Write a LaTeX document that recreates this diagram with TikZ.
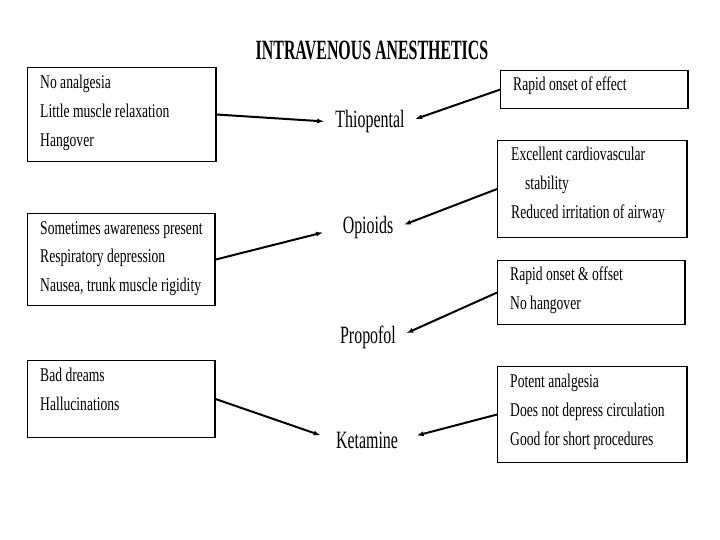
\documentclass[tikz,border=0pt]{standalone}
\usepackage{fontspec}
\newfontfamily\listfont{Liberation Serif}[FakeStretch=0.7]
\newfontfamily\drugfont{Liberation Serif}[FakeStretch=0.64]
\newfontfamily\headfont{Liberation Serif}[FakeStretch=0.57]
\usetikzlibrary{arrows.meta,positioning}

\tikzset{
  infobox/.style={draw, line width=1.4bp, inner sep=0pt, anchor=north west},
  listtext/.style={inner sep=0pt, anchor=north west, align=left, font=\listfont\fontsize{19.5}{29}\selectfont},
  drug/.style={inner sep=2bp, anchor=base, font=\drugfont\fontsize{25}{28}\selectfont},
  link/.style={line width=2bp, -{Latex[length=7bp,width=5bp]}, shorten >=9bp}
}

\begin{document}
\begin{tikzpicture}[x=1bp, y=-1bp]
  \useasboundingbox (0,0) rectangle (720,540);

  % Title
  \node[inner sep=0pt, anchor=base, font=\headfont\bfseries\fontsize{28}{30}\selectfont] (title) at (372,60) {INTRAVENOUS ANESTHETICS};

  % Drug names
  \node[drug] (thio) at (370,128) {Thiopental};
  \node[drug] (opio) at (368,234) {Opioids};
  \node[drug] (prop) at (368,343) {Propofol};
  \node[drug] (keta) at (367,448) {Ketamine};

  % Left boxes: drawbacks
  \node[infobox, minimum width=189, minimum height=94] (conA) at (27,67) {};
  \node[listtext] (conAtext) at ([xshift=13bp, yshift=-8bp]conA.north west) {No analgesia\\Little muscle relaxation\\Hangover};

  \node[infobox, minimum width=188, minimum height=92] (conB) at (27,213) {};
  \node[listtext] (conBtext) at ([xshift=13bp, yshift=-8bp]conB.north west) {Sometimes awareness present\\Respiratory depression\\Nausea, trunk muscle rigidity};

  \node[infobox, minimum width=188, minimum height=77] (conC) at (27,360) {};
  \node[listtext] (conCtext) at ([xshift=13bp, yshift=-8bp]conC.north west) {Bad dreams\\Hallucinations};

  % Right boxes: advantages
  \node[infobox, minimum width=188, minimum height=38] (proA) at (500,70) {};
  \node[listtext] (proAtext) at ([xshift=13bp, yshift=-7bp]proA.north west) {Rapid onset of effect};

  \node[infobox, minimum width=190, minimum height=97] (proB) at (497,140) {};
  \node[listtext] (proBtext) at ([xshift=14bp, yshift=-7bp]proB.north west) {Excellent cardiovascular\\\hspace{14bp}stability\\Reduced irritation of airway};

  \node[infobox, minimum width=188, minimum height=64] (proC) at (497,260) {};
  \node[listtext] (proCtext) at ([xshift=13bp, yshift=-7bp]proC.north west) {Rapid onset \& offset\\No hangover};

  \node[infobox, minimum width=190, minimum height=96] (proD) at (497,366) {};
  \node[listtext] (proDtext) at ([xshift=13bp, yshift=-8bp]proD.north west) {Potent analgesia\\Does not depress circulation\\Good for short procedures};

  % Connectors
  \draw[link] (conA.east) -- (thio.west);
  \draw[link] (proA.west) -- (thio.east);
  \draw[link, shorten >=18bp] (conB.east) -- (opio.west);
  \draw[link] (proB.west) -- (opio.east);
  \draw[link] (proC.west) -- (prop.east);
  \draw[link, shorten >=14bp] (conC.east) -- (keta.west);
  \draw[link, shorten >=17bp] (proD.west) -- (keta.east);
\end{tikzpicture}
\end{document}
